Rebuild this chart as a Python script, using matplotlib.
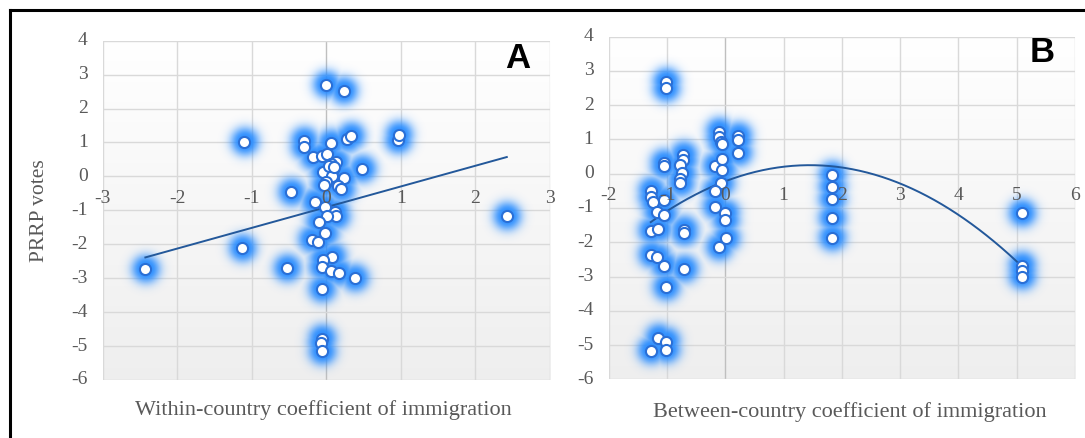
import numpy as np
import matplotlib
matplotlib.use("Agg")
import matplotlib.pyplot as plt
from matplotlib.lines import Line2D

# ---------------- data ----------------
within_x = [0.00, 0.23, -1.10, -0.30, -0.30, 0.06, 0.28, 0.33, 0.96, 0.97,
            -0.18, -0.06, 0.01, 0.13, 0.06, 0.09, -0.04, 0.48, 0.08, 0.23,
            0.00, -0.03, 0.15, 0.20, -0.47, -0.16, -0.02, 0.12, 0.13, 0.01,
            -0.10, -0.02, -0.20, -0.11, -1.13, 0.08, -0.05, -0.06, -0.53, 0.06,
            0.17, 0.38, -2.43, -0.06, -0.06, -0.07, -0.06, 2.42, 0.04, 0.10]
within_y = [2.70, 2.52, 1.02, 1.05, 0.88, 0.98, 1.10, 1.19, 1.07, 1.22,
            0.57, 0.61, 0.66, 0.42, 0.37, 0.23, 0.14, 0.22, 0.02, -0.04,
            -0.15, -0.26, -0.29, -0.38, -0.47, -0.75, -0.90, -1.05, -1.18, -1.17,
            -1.34, -1.68, -1.86, -1.92, -2.12, -2.37, -2.45, -2.67, -2.71, -2.80,
            -2.84, -3.00, -2.74, -3.32, -4.78, -4.90, -5.16, -1.18, 0.30, 0.27]

between_x = [-1.02, -1.02, -1.06, -1.06, -1.27, -1.27, -1.24, -1.06, -1.18, -1.06,
             -1.27, -1.15, -1.27, -1.17, -1.06, -1.02, -1.15, -1.02, -1.02, -1.28,
             -0.72, -0.72, -0.77, -0.74, -0.77, -0.77, -0.71, -0.71, -0.71,
             -0.11, -0.11, -0.08, -0.05, -0.17, -0.05, -0.05, -0.08, -0.17, -0.17,
             0.00, 0.00, 0.01, -0.11, 0.22, 0.22, 0.22,
             1.83, 1.83, 1.83, 1.83, 1.83, 5.09, 5.09, 5.09, 5.09]
between_y = [2.68, 2.49, 0.31, 0.23, -0.50, -0.67, -0.82, -0.77, -1.11, -1.19,
             -1.67, -1.62, -2.37, -2.44, -2.68, -3.32, -4.80, -4.90, -5.14, -5.17,
             0.54, 0.40, 0.25, 0.01, -0.16, -0.28, -1.64, -1.72, -2.79,
             1.23, 1.08, 0.93, 0.86, 0.23, 0.42, 0.11, -0.28, -0.50, -0.96,
             -1.16, -1.35, -1.89, -2.15, 1.10, 0.98, 0.61,
             -0.04, -0.38, -0.74, -1.30, -1.87, -1.16, -2.69, -2.83, -3.00]

# trend-line coefficients (highest power first)
trend_a = [0.61, -0.905]
trend_b = [-0.223, 0.6467, -0.219]

xticks_a = [-3, -2, -1, 0, 1, 2, 3]
xticks_b = [-2, -1, 0, 1, 2, 3, 4, 5, 6]
yticks = [4, 3, 2, 1, 0, -1, -2, -3, -4, -5, -6]

xlabel_a = "Within-country coefficient of immigration"
xlabel_b = "Between-country coefficient of immigration"
ylabel = "PRRP votes"

# ---------------- style ----------------
W, H, DPI = 1085, 438, 100
SERIF = ["Liberation Serif", "DejaVu Serif"]
SANS = ["Liberation Sans", "DejaVu Sans"]
GRID = "#d9d9d9"
TICKC = "#595959"
LINEC = "#23589a"
EDGEC = "#2a6fd6"

fig = plt.figure(figsize=(W / DPI, H / DPI), dpi=DPI)

def make_panel(rect, xs, ys, xticks, coeffs, letter, letter_xy, xlabel, xlabel_xy):
    ax = fig.add_axes(rect)
    xmin, xmax = xticks[0], xticks[-1]
    ax.set_xlim(xmin, xmax)
    ax.set_ylim(-6, 4)
    for s in ax.spines.values():
        s.set_visible(False)
    ax.set_xticks([])
    ax.set_yticks([])

    # background gradient: white top -> light grey bottom
    grad = np.linspace(0.935, 1.0, 256).reshape(-1, 1)
    ax.imshow(np.dstack([grad, grad, grad]), extent=[xmin, xmax, -6, 4],
              origin="lower", aspect="auto", zorder=0, interpolation="bilinear")

    # gridlines
    for xv in xticks:
        c = "#bfbfbf" if xv == 0 else GRID
        ax.axvline(xv, color=c, lw=1.0, zorder=0.5)
    for yv in yticks:
        ax.axhline(yv, color=GRID, lw=1.0, zorder=0.5)

    # glow (pixel-space falloff around each point)
    wpx = rect[2] * W
    hpx = rect[3] * H
    nx, ny = int(wpx), int(hpx)
    gx = np.linspace(xmin, xmax, nx)
    gy = np.linspace(-6, 4, ny)
    GX, GY = np.meshgrid(gx, gy)
    sx = wpx / (xmax - xmin)
    sy = hpx / 10.0
    alpha = np.zeros_like(GX)
    for px, py in zip(xs, ys):
        d = np.hypot((GX - px) * sx, (GY - py) * sy)
        a = 0.95 * np.exp(-(np.clip(d - 5.5, 0, None) / 9.5) ** 2)
        alpha = np.maximum(alpha, a)
    rgba = np.zeros((ny, nx, 4))
    rgba[..., 0] = 0.16
    rgba[..., 1] = 0.55
    rgba[..., 2] = 1.0
    rgba[..., 3] = alpha
    ax.imshow(rgba, extent=[xmin, xmax, -6, 4], origin="lower", aspect="auto",
              zorder=1, interpolation="bilinear")

    # trend line
    xl = np.linspace(min(xs), max(xs), 200)
    ax.plot(xl, np.polyval(coeffs, xl), color=LINEC, lw=1.4, zorder=2)

    # markers
    ax.scatter(xs, ys, s=64, facecolor="white", edgecolor=EDGEC, linewidth=1.5, zorder=3)

    # tick labels
    for xv in xticks:
        ax.annotate(str(xv), xy=(xv, 0), xytext=(0, -16), textcoords="offset points",
                    ha="center", va="center", fontsize=14, color=TICKC,
                    family=SERIF, zorder=4, annotation_clip=False)
    for yv in yticks:
        ax.annotate(str(yv), xy=(xmin, yv), xytext=(-11, 0), textcoords="offset points",
                    ha="right", va="center", fontsize=14, color=TICKC,
                    family=SERIF, annotation_clip=False)

    fig.text(letter_xy[0] / W, 1 - letter_xy[1] / H, letter, fontsize=25,
             fontweight="bold", family=SANS, ha="center", va="center", color="black")
    fig.text(xlabel_xy[0] / W, 1 - xlabel_xy[1] / H, xlabel, fontsize=16,
             family=SERIF, color=TICKC, ha="center", va="center")
    return ax

rect_a = [102.9 / W, 1 - 380 / H, (550 - 102.9) / W, (380 - 40.7) / H]
rect_b = [608.8 / W, 1 - 379.3 / H, (1075 - 608.8) / W, (379.3 - 36.7) / H]

make_panel(rect_a, within_x, within_y, xticks_a, trend_a, "A", (518, 58), xlabel_a, (323, 410))
make_panel(rect_b, between_x, between_y, xticks_b, trend_b, "B", (1042, 53), xlabel_b, (850, 412))

fig.text(39 / W, 1 - 211 / H, ylabel, rotation=90, fontsize=15.5, family=SERIF,
         color=TICKC, ha="center", va="center")

# outer frame (top and left edges visible)
fig.add_artist(Line2D([10 / W, 10 / W], [0, 1 - 10 / H], color="black", lw=2.2,
                      transform=fig.transFigure))
fig.add_artist(Line2D([10 / W, 1], [1 - 10 / H, 1 - 10 / H], color="black", lw=2.2,
                      transform=fig.transFigure))

fig.savefig("out.png", dpi=DPI)
